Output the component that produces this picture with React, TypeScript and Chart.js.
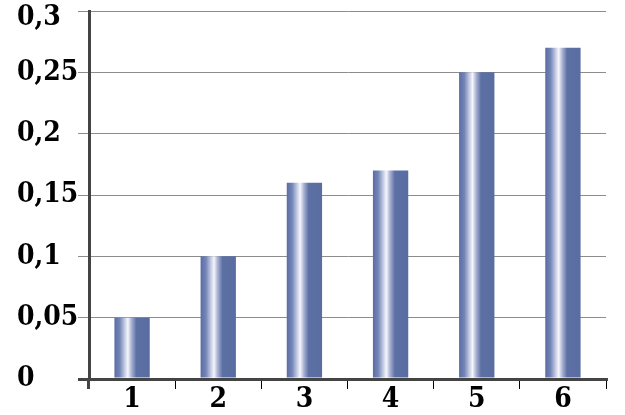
import React, { useEffect, useRef } from "react";
import { Chart, registerables } from "chart.js";

Chart.register(...registerables);

const categories = ["1", "2", "3", "4", "5", "6"];
const values = [0.05, 0.1, 0.16, 0.17, 0.25, 0.27];
const yTickValues = [0, 0.05, 0.1, 0.15, 0.2, 0.25, 0.3];
const yTickLabels = ["0", "0,05", "0,1", "0,15", "0,2", "0,25", "0,3"];

const BAR_PCT = 0.41;
const FONT = { family: "'DejaVu Serif Condensed', 'DejaVu Serif', serif", size: 28, weight: "bold" as const };

const shiftTopLabel = {
  id: "shiftTopLabel",
  beforeDraw(chart: any) {
    const ys = chart.scales.y;
    if (!ys) return;
    const items = ys.getLabelItems(chart.chartArea);
    items.forEach((it: any) => {
      if (it.label === yTickLabels[yTickLabels.length - 1] && !it._shifted) {
        it.options.translation = [it.options.translation[0], it.options.translation[1] + 7];
        it._shifted = true;
      }
    });
  },
};

export default function App() {
  const ref = useRef<HTMLCanvasElement | null>(null);

  useEffect(() => {
    document.body.style.margin = "0";
    const canvas = ref.current!;
    const chart = new Chart(canvas, {
      type: "bar",
      data: {
        labels: categories,
        datasets: [
          {
            data: values,
            barPercentage: BAR_PCT,
            categoryPercentage: 1,
            borderWidth: 0,
            backgroundColor: (c: any) => {
              const ch = c.chart;
              const xs = ch.scales?.x;
              if (!xs || c.dataIndex === undefined || !ch.chartArea) return "#5a6ea3";
              const cx = xs.getPixelForValue(c.dataIndex);
              const w = (xs.width / categories.length) * BAR_PCT;
              const g = ch.ctx.createLinearGradient(cx - w / 2, 0, cx + w / 2, 0);
              g.addColorStop(0, "#5a6da4");
              g.addColorStop(0.15, "#7485b6");
              g.addColorStop(0.3, "#c9d0e6");
              g.addColorStop(0.38, "#f6f6fb");
              g.addColorStop(0.48, "#aab4d4");
              g.addColorStop(0.62, "#5d70a4");
              g.addColorStop(1, "#5a6da2");
              return g;
            },
          },
        ],
      },
      plugins: [shiftTopLabel],
      options: {
        animation: false,
        responsive: false,
        layout: { padding: { left: 17, top: 11, right: 19, bottom: 0 } },
        plugins: { legend: { display: false }, tooltip: { enabled: false } },
        scales: {
          x: {
            afterFit: (s: any) => {
              s.height = 36;
              s.paddingLeft = 0;
              s.paddingRight = 0;
            },
            border: { display: true, color: "#444444", width: 3 },
            grid: {
              display: true,
              offset: true,
              drawOnChartArea: false,
              drawTicks: true,
              tickLength: 10,
              color: (c: any) => (c.index === 0 ? "#444444" : "#000000"),
              lineWidth: (c: any) => (c.index === 0 ? 3 : 1),
            },
            ticks: { color: "#000", font: FONT, padding: -6 },
          },
          y: {
            min: 0,
            max: 0.3,
            afterFit: (s: any) => {
              s.width = 72;
              s.paddingTop = 0;
              s.paddingBottom = 0;
            },
            afterBuildTicks: (s: any) => {
              s.ticks = yTickValues.map((v) => ({ value: v }));
            },
            border: { display: true, color: "#444444", width: 3 },
            grid: {
              color: (c: any) => (c.index === 0 ? "#444444" : "#8c8c8c"),
              lineWidth: (c: any) => (c.index === 0 ? 3 : 1),
              tickLength: 11,
              drawTicks: true,
            },
            ticks: {
              color: "#000",
              font: FONT,
              crossAlign: "far",
              callback: (_v: any, i: number) => yTickLabels[i],
            },
          },
        },
      },
    });
    return () => chart.destroy();
  }, []);

  return (
    <div style={{ width: 625, height: 415 }}>
      <canvas ref={ref} width={625} height={415} style={{ display: "block" }} />
    </div>
  );
}
